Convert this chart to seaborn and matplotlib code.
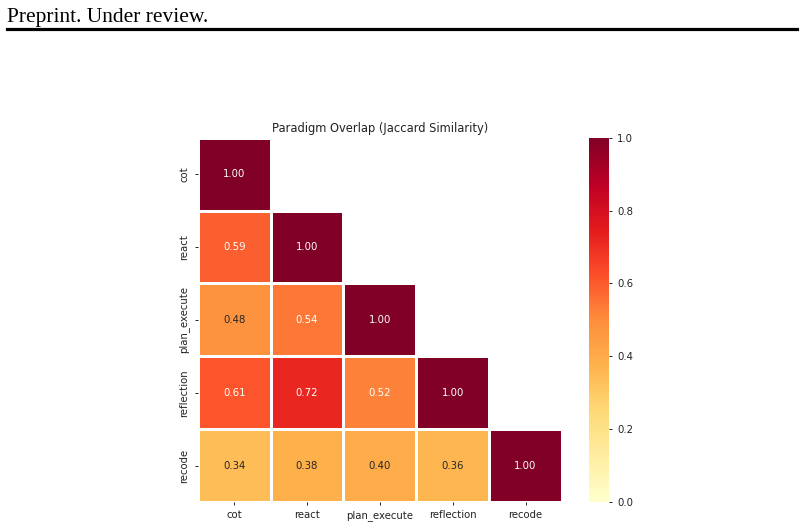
import numpy as np
import pandas as pd
import matplotlib
matplotlib.use("Agg")
import matplotlib.pyplot as plt
from matplotlib.lines import Line2D
import seaborn as sns

# paradigms and pairwise jaccard similarity (lower triangle)
paradigms = ["cot", "react", "plan_execute", "reflection", "recode"]
row_react = [0.59]
row_plan_execute = [0.48, 0.54]
row_reflection = [0.61, 0.72, 0.52]
row_recode = [0.34, 0.38, 0.40, 0.36]

n = len(paradigms)
sim = np.eye(n)
for i, row in enumerate([row_react, row_plan_execute, row_reflection, row_recode], start=1):
    for j, v in enumerate(row):
        sim[i, j] = v
        sim[j, i] = v
df = pd.DataFrame(sim, index=paradigms, columns=paradigms)
mask = np.triu(np.ones_like(sim, dtype=bool), k=1)

fig = plt.figure(figsize=(8.04, 5.26), dpi=100)
ax = fig.add_axes([0.246, 0.0456, 0.453, 0.6924])
cax = fig.add_axes([0.7326, 0.0456, 0.0249, 0.6924])

sns.heatmap(df, mask=mask, annot=True, fmt=".2f", cmap="YlOrRd", vmin=0, vmax=1,
            linewidths=0.8, linecolor="white", ax=ax, cbar_ax=cax,
            annot_kws={"fontsize": 7.3})
ax.set_title("Paradigm Overlap (Jaccard Similarity)", fontsize=8.3, pad=4, color="#222222")
ax.tick_params(labelsize=7.3, length=2.5, width=0.6, labelcolor="#222222")
plt.setp(ax.get_xticklabels(), rotation=0)
plt.setp(ax.get_yticklabels(), rotation=90, va="center")
cax.tick_params(labelsize=7.3, length=2.5, width=0.6, labelcolor="#222222")
for s in cax.spines.values():
    s.set_visible(False)

# paper header
fig.text(7 / 804, 1 - 22 / 526, "Preprint. Under review.", family="Liberation Serif",
         fontsize=15.5, va="baseline", ha="left")
fig.add_artist(Line2D([7 / 804, 797 / 804], [1 - 29 / 526, 1 - 29 / 526],
                      color="black", linewidth=2.3, transform=fig.transFigure))

fig.savefig("out.png", dpi=100)
